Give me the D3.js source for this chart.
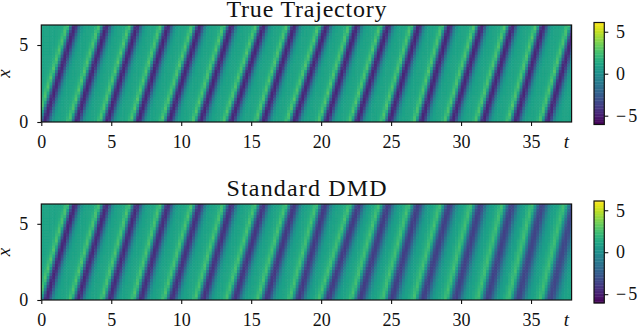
<!DOCTYPE html>
<html>
<head>
<meta charset="utf-8">
<script src="https://cdn.jsdelivr.net/npm/d3@7"></script>
<style>
  body { margin: 0; background: white; }
  svg { display: block; }
  text { font-family: "Liberation Serif", serif; fill: #111; }
</style>
</head>
<body>
<script>
// stripe positions: t of each dark band at x = 0 and at x = 2pi
var trueBottom = [0.26, 2.53, 4.72, 6.94, 9.15, 11.4, 13.6, 15.9, 18.1, 20.4, 22.6, 24.9, 27.2, 29.4, 31.6, 33.9, 36.2];
var trueTop = [2.41, 4.68, 6.86, 9.08, 11.35, 13.6, 15.9, 18.1, 20.4, 22.56, 24.8, 27.0, 29.2, 31.5, 33.7, 35.9, 38.2];
var dmdBottom = [0.38, 2.65, 4.91, 7.13, 9.33, 11.6, 13.85, 16.1, 18.4, 20.5, 22.8, 25.06, 27.3, 29.6, 31.9, 34.1, 36.4];
var dmdTop = [2.41, 4.68, 6.86, 9.08, 11.35, 13.6, 15.9, 18.1, 20.3, 22.7, 24.8, 26.95, 29.2, 31.4, 33.65, 35.8, 38.1];

// how strong and how wide each band looks, left to right
var trueStrength = [1, 1, 1, 1, 1, 1, 1, 1, 1, 1, 1, 1, 1, 1, 1, 1, 1];
var trueSpread = [1, 1, 1, 1, 1, 1, 1, 1, 1, 1, 1, 1, 1, 1, 1, 1, 1];
var dmdStrength = [1, 0.98, 0.96, 0.95, 0.93, 0.92, 0.9, 0.89, 0.87, 0.86, 0.85, 0.84, 0.83, 0.82, 0.81, 0.8, 0.78];
var dmdSpread = [1, 1.02, 1.04, 1.06, 1.08, 1.1, 1.12, 1.14, 1.16, 1.18, 1.2, 1.22, 1.24, 1.26, 1.28, 1.3, 1.32];

// value seen when walking across one band, by t distance from its dark centre
var bandOffset = [-1.1, -0.85, -0.7, -0.55, -0.45, -0.35, -0.25, -0.15, -0.05, 0.05, 0.15, 0.25, 0.35, 0.45, 0.55, 0.65, 0.8, 1.1];
var bandValue = [1.05, 1.3, 1.9, 2.8, 1.8, 0.1, -2.2, -4.0, -4.8, -4.75, -4.0, -2.8, -1.4, -0.4, 0.25, 0.65, 0.95, 1.05];
var restValue = 1.05;

var tTicks = [0, 5, 10, 15, 20, 25, 30, 35];
var xTicks = [0, 5];
var barTicks = [-5, 0, 5];

var width = 640,
    height = 327;

var svg = d3.select("body").append("svg")
  .attr("width", width)
  .attr("height", height);

svg.append("defs").append("filter")
  .attr("id", "soft")
  .append("feGaussianBlur")
  .attr("stdDeviation", 0.6);

var color = d3.scaleSequential(d3.interpolateViridis).domain([-6.05, 6.1]);
var bandScale = d3.scaleLinear().domain(bandOffset).range(bandValue).clamp(true);

var panels = [
  { title: "True Trajectory", top: 25, bottom: 122, barTop: 22.5, barBottom: 124.5,
    low: trueBottom, high: trueTop, strength: trueStrength, spread: trueSpread, titleY: 17.3 },
  { title: "Standard DMD", top: 204, bottom: 300, barTop: 201, barBottom: 303,
    low: dmdBottom, high: dmdTop, strength: dmdStrength, spread: dmdSpread, titleY: 195.7 }
];

var tCells = d3.range(0, 190).map(function(i) { return i * 0.2; });
var xCells = d3.range(0, 32).map(function(i) { return i * 0.2; });

panels.forEach(function(p, n) {
  var tScale = d3.scaleLinear().domain([0, 37.9]).range([41.3, 571.6]);
  var xScale = d3.scaleLinear().domain([0, 6.3]).range([p.bottom, p.top]);

  var clipId = "clip" + n;
  svg.select("defs").append("clipPath").attr("id", clipId)
    .append("rect")
    .attr("x", tScale(0)).attr("y", p.top)
    .attr("width", tScale(37.9) - tScale(0)).attr("height", p.bottom - p.top);

  // value of one cell: look it up on the band closest to it
  function cellValue(t, x) {
    var frac = x / 6.28, best = null, bestDist = 1e9;
    p.low.forEach(function(b, i) {
      var centre = b + (p.high[i] - b) * frac;
      var dist = Math.abs(t - centre);
      if (dist < bestDist) { bestDist = dist; best = i; }
    });
    var centre = p.low[best] + (p.high[best] - p.low[best]) * frac;
    var v = bandScale((t - centre) / p.spread[best]);
    return restValue + (v - restValue) * p.strength[best];
  }

  var cells = [];
  xCells.forEach(function(x) {
    tCells.forEach(function(t) {
      cells.push({ t: t, x: x, v: cellValue(t + 0.1, x + 0.1) });
    });
  });

  var holder = svg.append("g").attr("clip-path", "url(#" + clipId + ")");
  holder.append("g")
    .attr("filter", "url(#soft)")
    .selectAll("rect")
    .data(cells)
    .enter().append("rect")
    .attr("x", function(d) { return tScale(d.t) - 0.3; })
    .attr("y", function(d) { return xScale(d.x + 0.2) - 0.3; })
    .attr("width", tScale(0.2) - tScale(0) + 0.6)
    .attr("height", xScale(0) - xScale(0.2) + 0.6)
    .style("fill", function(d) { return color(d.v); });

  // frame
  svg.append("rect")
    .attr("x", tScale(0)).attr("y", p.top)
    .attr("width", tScale(37.9) - tScale(0)).attr("height", p.bottom - p.top)
    .style("fill", "none").style("stroke", "#111").style("stroke-width", 1.2);

  var tAxis = svg.append("g")
    .attr("transform", "translate(0," + p.bottom + ")")
    .call(d3.axisBottom(tScale).tickValues(tTicks).tickSize(4).tickPadding(9).tickFormat(d3.format("d")));
  var xAxis = svg.append("g")
    .attr("transform", "translate(" + tScale(0) + ",0)")
    .call(d3.axisLeft(xScale).tickValues(xTicks).tickSize(4).tickPadding(9).tickFormat(d3.format("d")));

  [tAxis, xAxis].forEach(function(a) {
    a.select(".domain").remove();
    a.selectAll("line").style("stroke", "#111").style("stroke-width", 1.1);
    a.selectAll("text").style("font-family", "Liberation Serif").style("font-size", "18px").style("fill", "#111");
  });

  svg.append("text")
    .attr("x", 306.5).attr("y", p.titleY)
    .attr("text-anchor", "middle")
    .attr("textLength", 160)
    .style("font-size", "24px")
    .text(p.title);

  svg.append("text")
    .attr("x", 566.5).attr("y", p.bottom + 26)
    .attr("text-anchor", "middle")
    .style("font-size", "19px").style("font-style", "italic")
    .text("t");

  svg.append("text")
    .attr("transform", "translate(9.5," + ((p.top + p.bottom) / 2) + ") rotate(-90)")
    .attr("text-anchor", "middle")
    .style("font-size", "19px").style("font-style", "italic")
    .text("x");

  // colorbar
  var barScale = d3.scaleLinear().domain([-6.05, 6.1]).range([p.barBottom, p.barTop]);
  var barLevels = d3.range(0, 64).map(function(i) { return -6.05 + i * 12.15 / 64; });
  svg.append("g").selectAll("rect")
    .data(barLevels)
    .enter().append("rect")
    .attr("x", 594)
    .attr("y", function(d) { return barScale(d + 12.15 / 64) - 0.2; })
    .attr("width", 10.3)
    .attr("height", barScale(-6.05) - barScale(-6.05 + 12.15 / 64) + 0.4)
    .style("fill", function(d) { return color(d + 6.07 / 64); });
  svg.append("rect")
    .attr("x", 594).attr("y", p.barTop)
    .attr("width", 10.3).attr("height", p.barBottom - p.barTop)
    .style("fill", "none").style("stroke", "#111").style("stroke-width", 1.2);

  var barAxis = svg.append("g")
    .attr("transform", "translate(604.3,0)")
    .call(d3.axisRight(barScale).tickValues(barTicks).tickSize(4).tickPadding(7.7)
      .tickFormat(function(d) { return d < 0 ? "\u2212" + (-d) : d; }));
  barAxis.select(".domain").remove();
  barAxis.selectAll("line").style("stroke", "#111").style("stroke-width", 1.1);
  barAxis.selectAll("text")
    .style("font-family", "Liberation Serif").style("font-size", "18px").style("fill", "#111")
    .style("letter-spacing", function(d) { return d < 0 ? "2px" : null; });
});
</script>
</body>
</html>
